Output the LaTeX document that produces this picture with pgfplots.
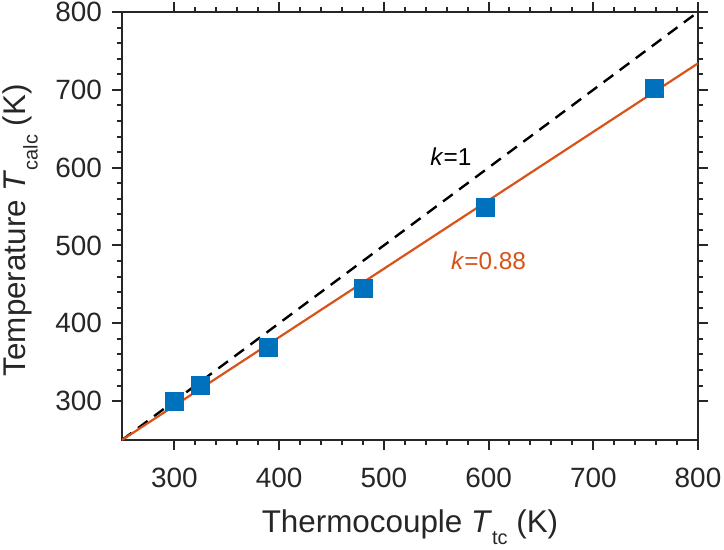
\documentclass[border=0pt]{standalone}
\usepackage{fontspec}
\setmainfont{Liberation Sans}
\usepackage{pgfplots}
\pgfplotsset{compat=1.18}
\usetikzlibrary{calc}

\definecolor{axgray}{RGB}{38,38,38}
\definecolor{mblue}{RGB}{0,114,189}
\definecolor{morange}{RGB}{217,83,25}

\newcommand{\ticksize}{\fontsize{28}{32}\selectfont}
\newcommand{\labsize}{\fontsize{31.5}{36}\selectfont}
\newcommand{\notesize}{\fontsize{24.5}{28}\selectfont}
\newcommand{\sub}[1]{\raisebox{-12.5bp}{\fontsize{20}{22}\selectfont #1}}

\begin{document}
\begin{tikzpicture}
\begin{axis}[
  scale only axis,
  width=576bp, height=428bp,
  xmin=250, xmax=800, ymin=250, ymax=800,
  xtick={300,400,...,800}, ytick={300,400,...,800},
  minor tick num=4,
  tick align=outside,
  major tick length=10bp, minor tick length=5bp,
  axis line style={axgray, line width=2.2bp},
  every tick/.style={axgray, line width=2bp},
  tick label style={font=\ticksize, text=axgray},
  /pgf/number format/assume math mode=true,
  /pgf/number format/1000 sep={},
  xticklabel style={anchor=north, inner sep=0pt, yshift=-18bp},
  yticklabel style={anchor=east, inner sep=0pt, xshift=-10bp},
  xlabel={Thermocouple \textit{T}\sub{tc} (K)},
  ylabel={Temperature \textit{T}\sub{calc} (K)},
  label style={font=\labsize, text=axgray},
  xlabel style={at={(rel axis cs:0.5,-0.2150)}, anchor=base},
  ylabel style={at={(rel axis cs:-0.1684,0.49)}, anchor=base},
  clip=true,
]
% identity reference line
\addplot[black, line width=2.4bp, dash pattern=on 12bp off 8bp] coordinates {(250,250) (800,800)};
% linear fit with slope 0.88
\addplot[morange, line width=2.2bp] coordinates {(250,250) (800,734)};
% measured points
\addplot[only marks, mark=square*, mark size=9bp, mark options={fill=mblue, draw=mblue, line width=0pt}]
  coordinates {(300,299) (325,320) (390,369) (481,445) (597,549) (758,702)};
\node[font=\notesize, text=black] at (axis cs:564,614) {\textit{k}=1};
\node[font=\notesize, text=morange] at (axis cs:600,480) {\textit{k}=0.88};
\end{axis}
\pgfresetboundingbox
\path[use as bounding box] ($(current axis.south west)+(-122bp,-110bp)$) rectangle ($(current axis.north east)+(26bp,12bp)$);
\end{tikzpicture}
\end{document}
